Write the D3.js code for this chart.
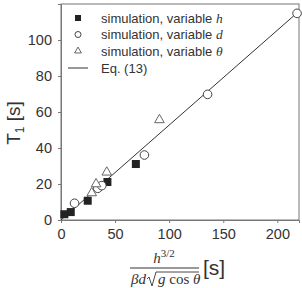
<!DOCTYPE html>
<html><head><meta charset="utf-8">
<script src="https://cdn.jsdelivr.net/npm/d3@7"></script>
<style>body{margin:0;background:#fff}svg{display:block}</style>
</head><body>
<script>
const xTicks = [0, 50, 100, 150, 200];
const yTicks = [0, 20, 40, 60, 80, 100];
const hX = [3.1, 9.0, 24.7, 42.9, 69.2];
const hY = [3.2, 4.4, 10.7, 21.1, 31.1];
const dX = [12.5, 34.0, 37.7, 77.1, 135.5, 218.2];
const dY = [9.3, 17.6, 19.1, 36.1, 69.8, 114.8];
const tX = [28.4, 32.4, 42.3, 91.0];
const tY = [15.0, 20.0, 26.5, 55.6];
const lineX = [0, 220];
const lineY = [0, 116];
const legendLabels = ["simulation, variable ", "simulation, variable ", "simulation, variable ", "Eq. (13)"];
const legendVars = ["h", "d", "θ", ""];

const W = 302, H = 288;
const svg = d3.select("body").append("svg").attr("width", W).attr("height", H);
const x = d3.scaleLinear().domain([0, 220]).range([61, 299]);
const y = d3.scaleLinear().domain([0, 120]).range([220, 4]);
const axisColor = "#777", textColor = "#333";

// frame
svg.append("rect").attr("x", 61).attr("y", 4).attr("width", 238).attr("height", 216)
  .attr("fill", "none").attr("stroke", axisColor).attr("stroke-width", 1);

const xa = svg.append("g").attr("transform", "translate(0,220)")
  .call(d3.axisBottom(x).tickValues(xTicks).tickSize(3).tickPadding(6));
const ya = svg.append("g").attr("transform", "translate(61,0)")
  .call(d3.axisLeft(y).tickValues(yTicks).tickSize(3).tickPadding(6));
[xa, ya].forEach(g => {
  g.select(".domain").attr("stroke", axisColor);
  g.selectAll(".tick line").attr("stroke", axisColor);
  g.selectAll(".tick text").attr("fill", textColor).attr("font-size", 14.5)
    .attr("font-family", "Liberation Sans, Arial, sans-serif");
});

// fit line
svg.append("path").datum(lineX.map((v, i) => [v, lineY[i]]))
  .attr("d", d3.line().x(d => x(d[0])).y(d => y(d[1])))
  .attr("stroke", "#333").attr("stroke-width", 1).attr("fill", "none");

// squares
const sq = 8;
svg.append("g").selectAll("rect").data(hX.map((v, i) => [v, hY[i]])).join("rect")
  .attr("x", d => x(d[0]) - sq / 2).attr("y", d => y(d[1]) - sq / 2)
  .attr("width", sq).attr("height", sq).attr("fill", "#222");
// circles
svg.append("g").selectAll("circle").data(dX.map((v, i) => [v, dY[i]])).join("circle")
  .attr("cx", d => x(d[0])).attr("cy", d => y(d[1])).attr("r", 4.3)
  .attr("fill", "#fff").attr("stroke", "#444").attr("stroke-width", 1);
// triangles
const tri = d3.symbol().type(d3.symbolTriangle).size(40);
svg.append("g").selectAll("path").data(tX.map((v, i) => [v, tY[i]])).join("path")
  .attr("d", tri).attr("transform", d => `translate(${x(d[0])},${y(d[1])})`)
  .attr("fill", "#fff").attr("stroke", "#666").attr("stroke-width", 1);

// legend
const lg = svg.append("g");
const rows = [18, 34.5, 51, 68];
const lx = 78, tx = 101;
lg.append("rect").attr("x", lx - 3).attr("y", rows[0] - 3).attr("width", 6).attr("height", 6).attr("fill", "#222");
lg.append("circle").attr("cx", lx).attr("cy", rows[1]).attr("r", 3).attr("fill", "#fff").attr("stroke", "#444");
lg.append("path").attr("d", d3.symbol().type(d3.symbolTriangle).size(20))
  .attr("transform", `translate(${lx},${rows[2]})`).attr("fill", "#fff").attr("stroke", "#666");
lg.append("line").attr("x1", 68).attr("x2", 88).attr("y1", rows[3]).attr("y2", rows[3]).attr("stroke", "#333");
legendLabels.forEach((t, i) => {
  const te = lg.append("text").attr("x", tx).attr("y", rows[i] + 4.5)
    .attr("font-size", 13).attr("fill", textColor)
    .attr("font-family", "Liberation Sans, Arial, sans-serif");
  te.append("tspan").text(t);
  if (legendVars[i]) te.append("tspan").attr("font-family", "Liberation Serif, serif")
    .attr("font-style", "italic").attr("font-size", 13.5).text(legendVars[i]);
});

// y label
const yl = svg.append("text").attr("transform", "translate(20,123) rotate(-90)")
  .attr("text-anchor", "middle").attr("fill", textColor)
  .attr("font-family", "Liberation Sans, Arial, sans-serif").attr("font-size", 19);
yl.append("tspan").text("T");
yl.append("tspan").attr("font-size", 12).attr("dy", 4).text("1");
yl.append("tspan").attr("dy", -4).text(" [s]");

// x label fraction
const serif = "Liberation Serif, Times New Roman, serif";
const num = svg.append("text").attr("x", 164).attr("y", 263).attr("text-anchor", "middle")
  .attr("font-family", serif).attr("fill", textColor).attr("font-size", 15);
num.append("tspan").attr("font-style", "italic").text("h");
num.append("tspan").attr("font-size", 11).attr("dy", -6).text("3/2");
svg.append("line").attr("x1", 130).attr("x2", 199).attr("y1", 268).attr("y2", 268)
  .attr("stroke", textColor).attr("stroke-width", 1);
const den = svg.append("text").attr("x", 131).attr("y", 284)
  .attr("font-family", serif).attr("fill", textColor).attr("font-size", 15).attr("font-style", "italic");
den.append("tspan").text("βd");
// sqrt sign
svg.append("path").attr("d", "M147,279 L149,277 L152,286 L156,272 L199,272")
  .attr("fill", "none").attr("stroke", textColor).attr("stroke-width", 0.9);
const rad = svg.append("text").attr("x", 158).attr("y", 284)
  .attr("font-family", serif).attr("fill", textColor).attr("font-size", 15);
rad.append("tspan").attr("font-style", "italic").text("g");
rad.append("tspan").text(" cos ");
rad.append("tspan").attr("font-style", "italic").text("θ");
svg.append("text").attr("x", 203).attr("y", 275).attr("font-size", 21)
  .attr("font-family", "Liberation Sans, Arial, sans-serif").attr("fill", textColor).text("[s]");
</script>
</body></html>
